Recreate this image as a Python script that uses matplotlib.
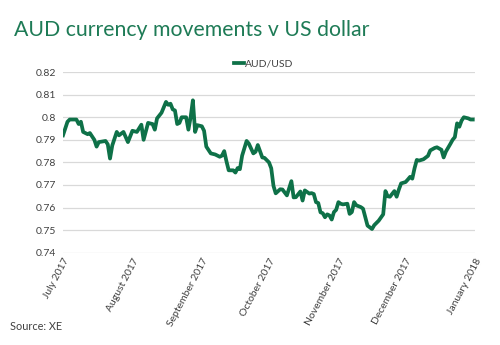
import datetime as dt
import matplotlib
matplotlib.use("Agg")
import matplotlib.pyplot as plt

# Data: days since 1 July 2017 and AUD/USD rate
start_date = dt.date(2017, 7, 1)
day_offsets = [0, 2, 3, 6, 7, 8, 9, 11, 12, 13, 14, 15, 16, 19, 20, 21, 22, 24, 25, 27,
               29, 31, 33, 35, 36, 38, 40, 41, 42, 44, 46, 47, 48, 49, 50, 51, 52, 53, 55, 56,
               57, 58, 59, 60, 62, 63, 64, 66, 68, 70, 71, 72, 73, 74, 76, 77, 78, 79, 80, 82,
               83, 85, 86, 87, 89, 90, 92, 93, 94, 95, 97, 98, 100, 102, 103, 104, 106, 107, 108, 110,
               111, 112, 113, 114, 115, 116, 117, 118, 119, 120, 121, 122, 123, 124, 125, 127, 128, 129, 130, 131,
               133, 134, 135, 136, 138, 139, 141, 143, 144, 145, 146, 148, 149, 150, 151, 153, 154, 155, 156, 157,
               158, 159, 161, 163, 164, 166, 167, 169, 170, 171, 173, 174, 175, 176, 177, 178, 179, 181, 182, 183]
aud_usd = [0.7920, 0.7980, 0.7990, 0.7990, 0.7970, 0.7980, 0.7935, 0.7925, 0.7930, 0.7915,
           0.7900, 0.7870, 0.7890, 0.7895, 0.7880, 0.7817, 0.7875, 0.7935, 0.7920, 0.7935,
           0.7890, 0.7940, 0.7935, 0.7967, 0.7900, 0.7975, 0.7970, 0.7945, 0.7995, 0.8020,
           0.8068, 0.8055, 0.8060, 0.8035, 0.8030, 0.7970, 0.7975, 0.8000, 0.8000, 0.7945,
           0.8000, 0.8075, 0.7935, 0.7965, 0.7960, 0.7940, 0.7870, 0.7840, 0.7835, 0.7825,
           0.7830, 0.7850, 0.7805, 0.7765, 0.7765, 0.7755, 0.7775, 0.7770, 0.7830, 0.7895,
           0.7883, 0.7840, 0.7847, 0.7877, 0.7822, 0.7820, 0.7800, 0.7774, 0.7696, 0.7663,
           0.7681, 0.7680, 0.7654, 0.7717, 0.7645, 0.7646, 0.7671, 0.7631, 0.7676, 0.7662,
           0.7664, 0.7660, 0.7624, 0.7620, 0.7579, 0.7575, 0.7557, 0.7570, 0.7565, 0.7547,
           0.7580, 0.7590, 0.7624, 0.7617, 0.7614, 0.7617, 0.7572, 0.7580, 0.7624, 0.7610,
           0.7602, 0.7595, 0.7557, 0.7520, 0.7505, 0.7522, 0.7542, 0.7570, 0.7673, 0.7650,
           0.7648, 0.7673, 0.7648, 0.7680, 0.7707, 0.7713, 0.7724, 0.7736, 0.7728, 0.7774,
           0.7811, 0.7808, 0.7814, 0.7829, 0.7853, 0.7864, 0.7867, 0.7856, 0.7822, 0.7848,
           0.7882, 0.7900, 0.7912, 0.7973, 0.7958, 0.7985, 0.8000, 0.7995, 0.7990, 0.7990]
series_name = "AUD/USD"
title = "AUD currency movements v US dollar"
source = "Source: XE"
month_labels = ["July 2017", "August 2017", "September 2017", "October 2017",
                "November 2017", "December 2017", "January 2018"]
y_ticks = [0.74, 0.75, 0.76, 0.77, 0.78, 0.79, 0.8, 0.81, 0.82]
y_tick_labels = ["0.74", "0.75", "0.76", "0.77", "0.78", "0.79", "0.8", "0.81", "0.82"]

dates = [start_date + dt.timedelta(days=d) for d in day_offsets]
month_ticks = [dt.date(2017, m, 1) for m in range(7, 13)] + [dt.date(2018, 1, 1)]

plt.rcParams['font.family'] = ['Lato', 'DejaVu Sans']

fig = plt.figure(figsize=(5.0, 3.45), dpi=100)
ax = fig.add_axes([0.126, 0.2675, 0.824, 0.5235])

line_color = "#0E7148"
ax.plot(dates, aud_usd, color=line_color, lw=2.7, solid_joinstyle='round', label=series_name)

ax.set_xlim(month_ticks[0], month_ticks[-1])
ax.set_ylim(0.74, 0.82)
ax.set_yticks(y_ticks)
ax.set_yticklabels(y_tick_labels)
ax.set_xticks(month_ticks)
ax.set_xticklabels(month_labels, rotation=62, ha='right', va='top', rotation_mode='anchor',
                   fontsize=7.2)

ax.grid(axis='y', color='#D9D9D9', lw=0.9)
ax.set_axisbelow(True)
for s in ax.spines.values():
    s.set_visible(False)
ax.tick_params(axis='both', length=0, labelsize=7.5, colors='#404040', pad=5)
ax.tick_params(axis='x', pad=3)

leg = ax.legend(loc='lower center', bbox_to_anchor=(0.487, 0.985), frameon=False,
                fontsize=7.5, handlelength=1.0, handletextpad=0.1, borderaxespad=0.2)
for t in leg.get_texts():
    t.set_color('#404040')

fig.text(0.028, 0.943, title, fontsize=15.3, color="#1E7B56", ha='left', va='top')
fig.text(0.02, 0.055, source, fontsize=7.8, color='#404040', ha='left', va='center')

fig.savefig("out.png", dpi=100)
